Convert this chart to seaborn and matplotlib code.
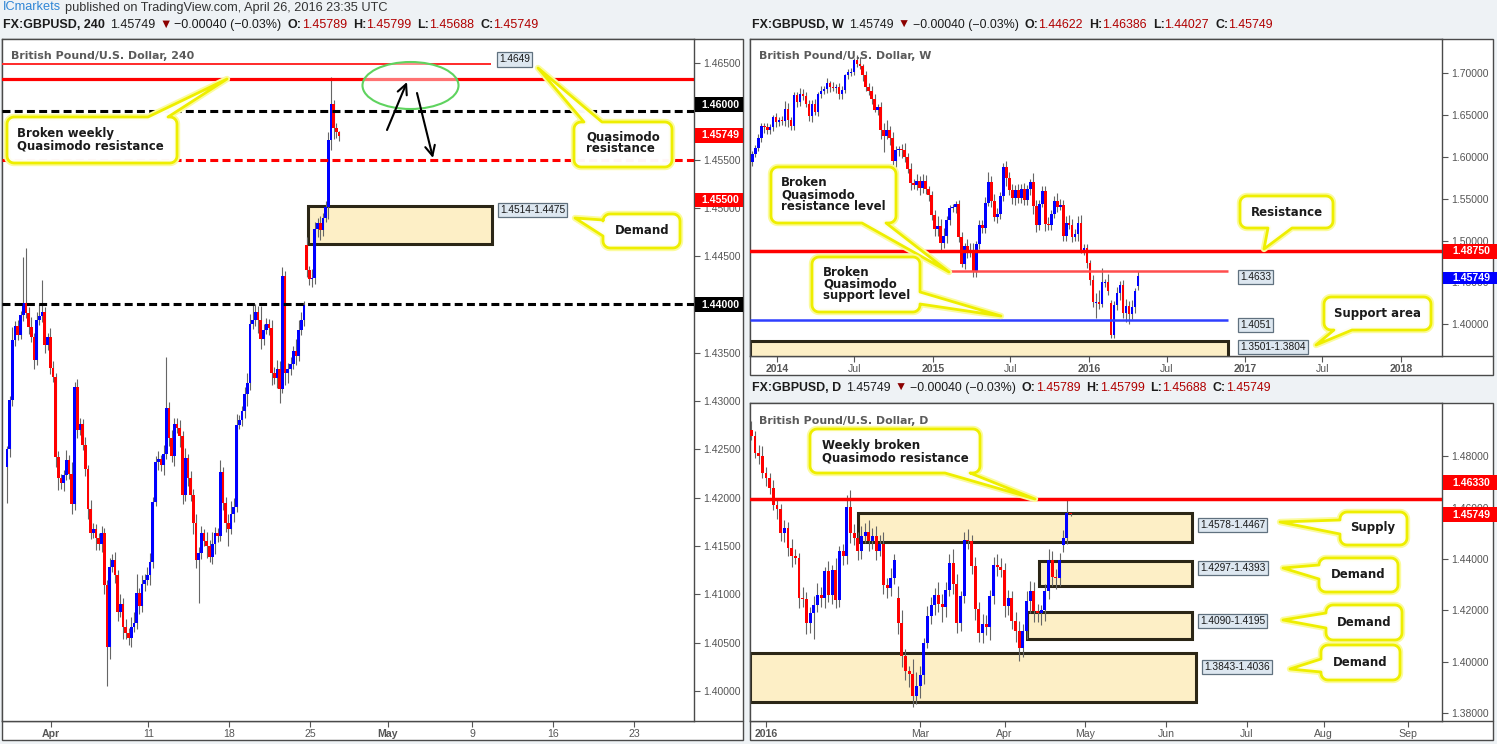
import numpy as np
import matplotlib
matplotlib.use("Agg")
import matplotlib.pyplot as plt
import matplotlib.transforms as mtransforms
import matplotlib.patheffects as pe
from matplotlib.patches import Rectangle, Ellipse, PathPatch, FancyArrowPatch
from matplotlib.lines import Line2D
from matplotlib.path import Path
import seaborn as sns

# ---------------- data: 4h chart (GBPUSD, 240) ----------------
h4_first_open = 1.4232
h4_close = [
    1.4250, 1.4301, 1.4363, 1.4378, 1.4368, 1.4389, 1.4402, 1.4391, 1.4377, 1.4366,
    1.4343, 1.4384, 1.4388, 1.4392, 1.4358, 1.4366, 1.4334, 1.4325, 1.4242, 1.4220,
    1.4215, 1.4223, 1.4239, 1.4225, 1.4193, 1.4315, 1.4270, 1.4276, 1.4255, 1.4230,
    1.4188, 1.4163, 1.4168, 1.4158, 1.4152, 1.4163, 1.4110, 1.4045, 1.4128, 1.4136,
    1.4120, 1.4082, 1.4090, 1.4066, 1.4060, 1.4055, 1.4066, 1.4070, 1.4101, 1.4088,
    1.4111, 1.4115, 1.4120, 1.4133, 1.4196, 1.4237, 1.4240, 1.4234, 1.4245, 1.4293,
    1.4262, 1.4243, 1.4276, 1.4272, 1.4264, 1.4203, 1.4241, 1.4220, 1.4203, 1.4174,
    1.4135, 1.4143, 1.4163, 1.4155, 1.4150, 1.4139, 1.4152, 1.4163, 1.4160, 1.4227,
    1.4195, 1.4174, 1.4168, 1.4183, 1.4190, 1.4275, 1.4280, 1.4290, 1.4307, 1.4319,
    1.4380, 1.4384, 1.4392, 1.4384, 1.4364, 1.4374, 1.4380, 1.4376, 1.4329, 1.4324,
    1.4333, 1.4313, 1.4430, 1.4329, 1.4333, 1.4338, 1.4352, 1.4347, 1.4374, 1.4384,
    1.4399, 1.4436, 1.4426, 1.4427, 1.4478, 1.4484, 1.4477, 1.4490, 1.4501, 1.4570,
    1.4608, 1.4583, 1.4579, 1.45749]
h4_gap_open = {111: 1.4462, 123: 1.45789}
# wick lengths in pips above / below the body
h4_up = [
    3, 4, 14, 5, 6, 4, 47, 57, 6, 10,
    5, 8, 12, 33, 5, 4, 10, 8, 4, 6,
    5, 6, 10, 5, 12, 5, 8, 6, 5, 8,
    4, 10, 6, 5, 5, 8, 6, 5, 10, 6,
    8, 5, 10, 6, 8, 5, 10, 12, 20, 6,
    9, 6, 8, 10, 5, 6, 8, 4, 10, 53,
    6, 8, 6, 7, 8, 5, 10, 4, 8, 6,
    9, 6, 8, 5, 10, 6, 12, 7, 6, 12,
    5, 6, 9, 14, 10, 12, 6, 5, 8, 10,
    10, 18, 8, 6, 14, 6, 6, 5, 8, 6,
    10, 8, 9, 5, 6, 8, 5, 12, 10, 8,
    5, 8, 4, 10, 7, 6, 8, 5, 6, 9,
    28, 4, 5, 1]
h4_dn = [
    37, 8, 6, 6, 5, 4, 6, 5, 8, 5,
    10, 6, 5, 6, 8, 5, 6, 5, 10, 12,
    6, 8, 5, 6, 10, 6, 8, 5, 6, 8,
    10, 6, 5, 12, 6, 8, 10, 40, 12, 5,
    8, 10, 6, 12, 6, 8, 10, 5, 6, 8,
    6, 8, 5, 10, 6, 5, 8, 6, 10, 5,
    8, 6, 10, 5, 12, 10, 6, 8, 6, 12,
    8, 44, 6, 5, 12, 6, 8, 10, 6, 5,
    8, 10, 18, 6, 8, 5, 4, 6, 8, 12,
    8, 5, 6, 14, 10, 6, 5, 8, 12, 6,
    10, 15, 5, 12, 10, 6, 5, 10, 5, 6,
    6, 8, 6, 8, 6, 8, 10, 6, 5, 12,
    10, 12, 7, 6]
h4_xticks = [16.3, 52.3, 82.3, 112.2, 141.1, 172.3, 202.2, 232.2]
h4_xlabels = ['Apr', '11', '18', '25', 'May', '9', '16', '23']
h4_xbold = [True, False, False, False, True, False, False, False]
h4_yticks = [1.400, 1.405, 1.410, 1.415, 1.420, 1.425, 1.430,
             1.435, 1.440, 1.445, 1.450, 1.455, 1.460, 1.465]
h4_demand = (1.4463, 1.4502)

# ---------------- data: weekly chart ----------------
wk_first_open = 1.5940
wk_close = [
    1.6030, 1.6110, 1.6225, 1.6370, 1.6360, 1.6315, 1.6355, 1.6470, 1.6420, 1.6445,
    1.6430, 1.6570, 1.6440, 1.6365, 1.6735, 1.6650, 1.6750, 1.6730, 1.6630, 1.6490,
    1.6635, 1.6540, 1.6750, 1.6790, 1.6810, 1.6880, 1.6840, 1.6820, 1.6835, 1.6750,
    1.6800, 1.6975, 1.7010, 1.7015, 1.7155, 1.7110, 1.7085, 1.6980, 1.6830, 1.6785,
    1.6690, 1.6565, 1.6595, 1.6325, 1.6250, 1.6320, 1.6225, 1.5955, 1.6085, 1.6090,
    1.6080, 1.5995, 1.5860, 1.5685, 1.5660, 1.5710, 1.5630, 1.5710, 1.5615, 1.5550,
    1.5300, 1.5140, 1.5170, 1.4975, 1.5060, 1.5240, 1.5390, 1.5400, 1.5440, 1.5040,
    1.4725, 1.4935, 1.4880, 1.4870, 1.4630, 1.4960, 1.5180, 1.5145, 1.5450, 1.5705,
    1.5475, 1.5285, 1.5315, 1.5535, 1.5880, 1.5745, 1.5600, 1.5510, 1.5600, 1.5505,
    1.5610, 1.5490, 1.5620, 1.5700, 1.5415, 1.5180, 1.5440, 1.5595, 1.5200, 1.5180,
    1.5320, 1.5470, 1.5400, 1.5425, 1.5050, 1.5210, 1.5190, 1.5040, 1.5080, 1.5215,
    1.4890, 1.4910, 1.4735, 1.4530, 1.4265, 1.4265, 1.4245, 1.4500, 1.4500, 1.4400,
    1.3870, 1.4225, 1.4370, 1.4468, 1.4135, 1.4216, 1.4119, 1.4200, 1.4398, 1.45749]
wk_gap_open = {120: 1.4250, 129: 1.44622}
wk_up = [
    40, 35, 45, 30, 30, 45, 40, 35, 50, 30,
    45, 98, 70, 40, 40, 40, 73, 55, 40, 45,
    40, 55, 30, 55, 35, 60, 30, 60, 40, 50,
    45, 20, 45, 45, 25, 60, 82, 30, 40, 55,
    60, 55, 35, 55, 80, 120, 50, 70, 50, 40,
    60, 80, 50, 70, 55, 80, 60, 85, 70, 40,
    40, 60, 120, 90, 90, 50, 40, 40, 35, 40,
    65, 35, 80, 90, 95, 40, 60, 70, 65, 110,
    65, 80, 70, 50, 50, 70, 70, 70, 60, 75,
    65, 80, 40, 40, 110, 75, 50, 60, 55, 80,
    45, 60, 100, 70, 55, 80, 95, 65, 55, 75,
    90, 45, 45, 35, 60, 110, 140, 169, 45, 100,
    40, 55, 80, 47, 60, 80, 60, 95, 40, 64]
wk_dn = [
    55, 35, 40, 50, 80, 45, 45, 50, 60, 55,
    45, 60, 80, 50, 40, 60, 45, 50, 40, 60,
    70, 40, 55, 50, 40, 45, 60, 35, 55, 55,
    60, 40, 45, 50, 40, 35, 40, 75, 40, 45,
    60, 35, 60, 110, 198, 40, 85, 75, 90, 70,
    90, 60, 55, 85, 50, 55, 90, 60, 60, 80,
    60, 90, 80, 95, 60, 90, 60, 55, 70, 60,
    40, 60, 90, 70, 65, 65, 60, 50, 60, 40,
    70, 50, 80, 60, 60, 90, 50, 70, 90, 60,
    60, 70, 70, 75, 100, 75, 60, 45, 90, 60,
    60, 50, 60, 40, 60, 60, 55, 60, 50, 80,
    40, 60, 60, 60, 60, 185, 60, 40, 60, 45,
    35, 35, 50, 80, 65, 110, 114, 60, 60, 59]
wk_xticks = [0, 25.86, 52.14, 78.0, 104.29, 130.3, 156.57, 182.4, 208.7]
wk_xlabels = ['2014', 'Jul', '2015', 'Jul', '2016', 'Jul', '2017', 'Jul', '2018']
wk_xbold = [True, False, True, False, True, False, True, False, True]
wk_yticks = [1.40, 1.45, 1.50, 1.55, 1.60, 1.65, 1.70]

# ---------------- data: daily chart ----------------
d1_first_open = 1.4902
d1_close = [
    1.4876, 1.4812, 1.4800, 1.4734, 1.4714, 1.4676, 1.4611, 1.4595, 1.4500, 1.4520,
    1.4443, 1.4410, 1.4405, 1.4250, 1.4243, 1.4152, 1.4190, 1.4223, 1.4262, 1.4249,
    1.4352, 1.4262, 1.4357, 1.4240, 1.4430, 1.4410, 1.4601, 1.4501, 1.4480, 1.4430,
    1.4489, 1.4505, 1.4470, 1.4490, 1.4430, 1.4460, 1.4300, 1.4287, 1.4326, 1.4398,
    1.4152, 1.4022, 1.3964, 1.3952, 1.3867, 1.3905, 1.3951, 1.4074, 1.4178, 1.4223,
    1.4262, 1.4225, 1.4215, 1.4280, 1.4385, 1.4301, 1.4152, 1.4256, 1.4475, 1.4468,
    1.4372, 1.4204, 1.4113, 1.4148, 1.4135, 1.4256, 1.4378, 1.4370, 1.4359, 1.4216,
    1.4250, 1.4158, 1.4119, 1.4055, 1.4119, 1.4236, 1.4275, 1.4197, 1.4190, 1.4200,
    1.4274, 1.4398, 1.4330, 1.4325, 1.4398, 1.4482, 1.4579, 1.45749]
d1_gap_open = {40: 1.4249, 85: 1.4456, 87: 1.45789}
d1_up = [
    35, 20, 30, 40, 25, 20, 30, 25, 20, 30,
    25, 35, 30, 20, 40, 30, 25, 35, 45, 30,
    15, 40, 20, 45, 20, 30, 49, 68, 35, 25,
    40, 35, 45, 30, 40, 35, 45, 25, 40, 20,
    45, 50, 30, 20, 60, 55, 35, 20, 40, 30,
    25, 50, 40, 30, 35, 55, 40, 20, 30, 40,
    25, 35, 30, 40, 35, 25, 30, 40, 35, 25,
    30, 25, 35, 40, 30, 40, 40, 35, 30, 20,
    30, 40, 35, 30, 25, 30, 59, 1]
d1_dn = [
    15, 20, 30, 20, 30, 25, 20, 40, 30, 35,
    30, 40, 25, 40, 30, 45, 40, 100, 30, 35,
    40, 30, 35, 30, 25, 35, 30, 40, 25, 35,
    30, 25, 40, 30, 35, 20, 35, 40, 30, 25,
    45, 40, 35, 50, 40, 32, 45, 35, 20, 30,
    40, 30, 60, 40, 25, 35, 40, 30, 25, 30,
    30, 40, 35, 40, 30, 50, 30, 35, 30, 40,
    35, 30, 40, 50, 35, 30, 45, 40, 35, 45,
    40, 30, 35, 40, 30, 30, 25, 6]
d1_xticks = [0, 42, 65, 87, 109, 131, 152, 175]
d1_xlabels = ['2016', 'Mar', 'Apr', 'May', 'Jun', 'Jul', 'Aug', 'Sep']
d1_xbold = [True, False, False, False, False, False, False, False]
d1_yticks = [1.38, 1.40, 1.42, 1.44, 1.46, 1.48]
d1_zones = [(1.4467, 1.4578, 25.1), (1.4297, 1.4393, 74.4),
            (1.4090, 1.4195, 71.1), (1.3843, 1.4036, -4.4)]

# ---------------- figure ----------------
sns.set_theme(style="white")
plt.rcParams['font.family'] = ['Liberation Sans', 'DejaVu Sans']

W, H = 1497, 744
fig = plt.figure(figsize=(W / 100, H / 100), dpi=100, facecolor='#eef2f5')
pix = mtransforms.Affine2D().scale(1 / W, -1 / H).translate(0, 1) + fig.transFigure
renderer = fig.canvas.get_renderer()

BLUE, RED, WICK = '#0000ff', '#ff0000', '#666666'
FRAME = '#4a4a4a'
CALLOUT_FONT = 'DejaVu Sans'


def opens_from(first, closes, gaps):
    o = [first] + list(closes[:-1])
    for i, v in gaps.items():
        o[i] = v
    return np.array(o)


def draw_candles(ax, x, o, c, up, dn, width, minh):
    x = np.asarray(x, dtype=float)
    c = np.asarray(c)
    hi = np.maximum(o, c) + np.asarray(up) * 1e-4
    lo = np.minimum(o, c) - np.asarray(dn) * 1e-4
    ax.vlines(x, lo, hi, color=WICK, lw=0.8, zorder=3)
    body = np.abs(c - o)
    h = np.maximum(body, minh)
    bottom = np.minimum(o, c) - (h - body) / 2
    bull = c >= o
    ax.bar(x[bull], h[bull], bottom=bottom[bull], width=width, color=BLUE, lw=0, zorder=4)
    ax.bar(x[~bull], h[~bull], bottom=bottom[~bull], width=width, color=RED, lw=0, zorder=4)


def make_axes(box, xlim, ylim, yticks, xticks, xlabels, xbold):
    x0, y0, x1, y1 = box
    ax = fig.add_axes([x0 / W, 1 - y1 / H, (x1 - x0) / W, (y1 - y0) / H])
    ax.set_xlim(*xlim)
    ax.set_ylim(*ylim)
    ax.set_facecolor('white')
    for sp in ax.spines.values():
        sp.set_color(FRAME)
        sp.set_linewidth(1.0)
    ax.yaxis.tick_right()
    ax.set_yticks(yticks, labels=[f'{v:.5f}' for v in yticks])
    ax.set_xticks(xticks, labels=xlabels)
    ax.tick_params(axis='y', right=True, left=False, length=4, width=0.8,
                   color='#555555', labelsize=7.5, labelcolor='#555555', pad=2.5)
    ax.tick_params(axis='x', bottom=True, length=4, width=0.8,
                   color='#555555', labelsize=7.6, labelcolor='#555555', pad=2)
    for lab, b in zip(ax.get_xticklabels(), xbold):
        if b:
            lab.set_fontweight('bold')
    ax.grid(False)
    return ax


def clip_label(ax, value, y_top, y_bottom, x0, x1):
    # the price tag hides part of this scale label; show only what lies outside [y_top, y_bottom]
    for tick_value, lab in zip(ax.get_yticks(), ax.get_yticklabels()):
        if abs(tick_value - value) < 1e-9:
            lab.set_clip_on(True)
            lab.set_clip_box(mtransforms.Bbox([[x0, H - y_bottom], [x1, H - y_top]]))


def bubble(box, side, a, b, tip, r=7):
    x0, y0, x1, y1 = box
    pts = []

    def arc(cx, cy, t0, t1):
        for t in np.linspace(t0, t1, 7):
            pts.append((cx + r * np.cos(t), cy + r * np.sin(t)))

    arc(x0 + r, y0 + r, np.pi, 1.5 * np.pi)
    if side == 'top':
        pts.extend([(a, y0), tip, (b, y0)])
    arc(x1 - r, y0 + r, 1.5 * np.pi, 2 * np.pi)
    if side == 'right':
        pts.extend([(x1, a), tip, (x1, b)])
    arc(x1 - r, y1 - r, 0, 0.5 * np.pi)
    if side == 'bottom':
        pts.extend([(b, y1), tip, (a, y1)])
    arc(x0 + r, y1 - r, 0.5 * np.pi, np.pi)
    if side == 'left':
        pts.extend([(x0, b), tip, (x0, a)])
    pts.append(pts[0])
    codes = [Path.MOVETO] + [Path.LINETO] * (len(pts) - 2) + [Path.CLOSEPOLY]
    p = PathPatch(Path(pts, codes), transform=pix, fc=(1, 1, 1, 0.82),
                  ec='#eeee00', lw=2.0, zorder=6, joinstyle='round')
    p.set_path_effects([pe.Stroke(linewidth=4.6, foreground='#fbfb9e'), pe.Normal()])
    fig.add_artist(p)


def ctext(x, y, s, ha='left'):
    fig.text(x, y, s, transform=pix, ha=ha, va='center', fontsize=8.5,
             fontweight='bold', color='#1b1b1b', family=CALLOUT_FONT, zorder=7)


def price_box(x, y, s):
    fig.text(x, y, s, transform=pix, ha='left', va='center', fontsize=7.3, color='#1a1a1a',
             bbox=dict(boxstyle='square,pad=0.22', fc='#dde7f0', ec='#60717f', lw=0.9), zorder=7)


def axis_tag(x0, x1, y0, y1, s, fc):
    fig.add_artist(Rectangle((x0, y0), x1 - x0, y1 - y0, transform=pix, fc=fc, ec='none', zorder=5))
    fig.text((x0 + x1) / 2 + 1, (y0 + y1) / 2, s, transform=pix, ha='center', va='center',
             fontsize=7.6, fontweight='bold', color='white', zorder=7)


def rich(x, y, pieces, width, size=9.0):
    def lay(sz):
        arts, cx = [], x
        for s, wt, col, gap in pieces:
            t = fig.text(cx, y, s, transform=pix, ha='left', va='center', fontsize=sz,
                         fontweight=wt, color=col, zorder=7)
            cx += t.get_window_extent(renderer).width + gap
            arts.append(t)
        return arts, cx - x
    arts, w = lay(size)
    for a in arts:
        a.remove()
    lay(size * width / w)


def title(x, y, s):
    fig.text(x, y, s, transform=pix, ha='left', va='center', fontsize=7.9, fontweight='bold',
             color='#5a5a5a', family=CALLOUT_FONT, zorder=7)


# outer panel frames
for (x0, y0, x1, y1, yb) in [(2, 39, 743, 740, 721), (750, 39, 1493, 375, 356), (750, 403, 1493, 740, 721)]:
    fig.add_artist(Rectangle((x0, y0), x1 - x0, y1 - y0, transform=pix, fc='white', ec=FRAME, lw=1.0, zorder=-1))
    fig.add_artist(Line2D([x0, x1], [yb, yb], transform=pix, color=FRAME, lw=1.0, zorder=-0.5))

# ---------------- 4h panel ----------------
ax1 = make_axes((2, 39, 694, 721), (-1.852, 254.44), (1.396884, 1.467484),
                h4_yticks, h4_xticks, h4_xlabels, h4_xbold)
x4 = np.arange(len(h4_close))
draw_candles(ax1, x4, opens_from(h4_first_open, h4_close, h4_gap_open), h4_close,
             h4_up, h4_dn, 1.0, 0.00012)
ax1.add_patch(Rectangle((111.5, h4_demand[0]), 179.6 - 111.5, h4_demand[1] - h4_demand[0],
                        fc='#fdefc6', ec='#2b2616', lw=2.2, zorder=1.5))
ax1.hlines(1.4649, -1.852, 179.3, color='#ff2a2a', lw=1.4, zorder=5)
ax1.axhline(1.4633, color=RED, lw=2.3, zorder=5)
ax1.axhline(1.4600, color='black', lw=2.2, ls=(0, (2.6, 1.4)), zorder=5)
ax1.axhline(1.4550, color=RED, lw=2.2, ls=(0, (2.6, 1.4)), zorder=5)
ax1.axhline(1.4400, color='black', lw=2.2, ls=(0, (2.6, 1.4)), zorder=5)

fig.add_artist(Ellipse((410.5, 85.5), 96, 47, transform=pix, fc=(1, 1, 1, 0.45),
                       ec='#5fd35f', lw=1.5, zorder=6))
for (a, b) in [((387, 130), (407, 82)), ((417, 93), (433, 158))]:
    fig.add_artist(FancyArrowPatch(a, b, transform=pix, arrowstyle='->,head_length=0.45,head_width=0.22',
                                   mutation_scale=16, color='black', lw=1.5, shrinkA=0, shrinkB=0, zorder=7))

title(11, 56, 'British Pound/U.S. Dollar, 240')
price_box(499, 59.5, '1.4649')
price_box(500, 210, '1.4514-1.4475')
bubble((7, 117, 177, 163), 'top', 148, 168, (227, 79))
ctext(17, 133, 'Broken weekly')
ctext(17, 146, 'Quasimodo resistance')
bubble((574, 122, 672, 167), 'top', 584, 602, (538, 68))
ctext(586, 137, 'Quasimodo')
ctext(586, 149, 'resistance')
bubble((603, 214, 680, 248), 'left', 220, 236, (575, 218))
ctext(642, 231, 'Demand', ha='center')
axis_tag(695, 743, 97, 112, '1.46000', 'black')
axis_tag(695, 743, 128, 143, '1.45749', RED)
axis_tag(695, 743, 193, 207, '1.45500', RED)
axis_tag(695, 743, 297, 312, '1.44000', 'black')
clip_label(ax1, 1.460, 0, 112, 694, 745)
clip_label(ax1, 1.450, 207, 744, 694, 745)

# ---------------- weekly panel ----------------
ax2 = make_axes((750, 39, 1442, 356), (-9.03, 222.41), (1.362052, 1.740787),
                wk_yticks, wk_xticks, wk_xlabels, wk_xbold)
xw = np.arange(len(wk_close)) - 8 - 0.29
draw_candles(ax2, xw, opens_from(wk_first_open, wk_close, wk_gap_open), wk_close,
             wk_up, wk_dn, 0.9, 0.0012)
ax2.axhline(1.4875, color=RED, lw=2.5, zorder=5)
ax2.hlines(1.4633, 57.9, 150.8, color='#ff4d4d', lw=1.8, zorder=5)
ax2.hlines(1.4051, -9.03, 150.8, color='#2f3fff', lw=1.8, zorder=5)
ax2.add_patch(Rectangle((-9.03, 1.3501), 150.8 + 9.03, 1.3804 - 1.3501,
                        fc='#fdefc6', ec='#2b2616', lw=2.2, zorder=1.5))
title(759, 56, 'British Pound/U.S. Dollar, W')
price_box(1240, 277, '1.4633')
price_box(1240, 325, '1.4051')
price_box(1240, 347, '1.3501-1.3804')
bubble((771, 167, 896, 223), 'bottom', 862, 886, (949, 272))
ctext(781, 183, 'Broken')
ctext(781, 195, 'Quasimodo')
ctext(781, 207, 'resistance level')
bubble((812, 257, 920, 312), 'right', 292, 304, (1001, 316))
ctext(823, 272, 'Broken')
ctext(823, 284, 'Quasimodo')
ctext(823, 296, 'support level')
bubble((1240, 196, 1333, 228), 'bottom', 1268, 1292, (1264, 249))
ctext(1287, 212, 'Resistance', ha='center')
bubble((1324, 297, 1431, 330), 'bottom', 1334, 1352, (1316, 345))
ctext(1378, 313, 'Support area', ha='center')
axis_tag(1443, 1497, 244, 259, '1.48750', RED)
axis_tag(1443, 1497, 272, 284, '1.45749', BLUE)
clip_label(ax2, 1.45, 284, 744, 1442, 1497)
clip_label(ax2, 1.50, 0, 244, 1442, 1497)

# ---------------- daily panel ----------------
ax3 = make_axes((750, 403, 1442, 721), (-4.36, 184.2), (1.377087, 1.500583),
                d1_yticks, d1_xticks, d1_xlabels, d1_xbold)
xd = np.arange(len(d1_close)) - 4
for lo, hi, left in d1_zones:
    right = 117.2 if lo < 1.39 else 116.1
    left = max(left, -4.36)
    ax3.add_patch(Rectangle((left, lo), right - left, hi - lo,
                            fc='#fdefc6', ec='#2b2616', lw=2.2, zorder=1.5))
draw_candles(ax3, xd, opens_from(d1_first_open, d1_close, d1_gap_open), d1_close,
             d1_up, d1_dn, 0.8, 0.0004)
ax3.axhline(1.4633, color=RED, lw=2.5, zorder=5)
title(759, 421, 'British Pound/U.S. Dollar, D')
price_box(1200, 525, '1.4578-1.4467')
price_box(1200, 568, '1.4297-1.4393')
price_box(1200, 621, '1.4090-1.4195')
price_box(1204, 667, '1.3843-1.4036')
bubble((810, 429, 980, 473), 'bottom', 945, 970, (1035, 499))
ctext(822, 445, 'Weekly broken')
ctext(822, 458, 'Quasimodo resistance')
bubble((1340, 512, 1407, 545), 'left', 520, 534, (1280, 522))
ctext(1373, 528, 'Supply', ha='center')
bubble((1319, 558, 1398, 592), 'left', 565, 579, (1283, 568))
ctext(1358, 575, 'Demand', ha='center')
bubble((1326, 605, 1402, 640), 'left', 613, 628, (1283, 620))
ctext(1364, 622, 'Demand', ha='center')
bubble((1321, 645, 1400, 680), 'left', 659, 672, (1290, 669))
ctext(1360, 662, 'Demand', ha='center')
axis_tag(1443, 1497, 475, 490, '1.46330', RED)
axis_tag(1443, 1497, 507, 522, '1.45749', RED)
clip_label(ax3, 1.46, 490, 507, 1442, 1497)

# ---------------- headers ----------------
DARK, DRED, VRED = '#1c1c1c', '#8b0000', '#b00000'
rich(3, 7.5, [('ICmarkets', 'normal', '#2f86d6', 4),
              ('published on TradingView.com, April 26, 2016 23:35 UTC', 'normal', '#333333', 0)], 387)


def quote_line(x, y, name, o, h, l, c, width):
    rich(x, y, [(name, 'bold', DARK, 5), ('1.45749', 'normal', DARK, 4), ('\u25bc', 'normal', DRED, 3),
                ('\u22120.00040 (\u22120.03%)', 'normal', DARK, 6),
                ('O:', 'bold', DARK, 0), (o, 'normal', VRED, 6),
                ('H:', 'bold', DARK, 0), (h, 'normal', VRED, 6),
                ('L:', 'bold', DARK, 0), (l, 'normal', VRED, 6),
                ('C:', 'bold', DARK, 0), (c, 'normal', VRED, 0)], width)


quote_line(3, 25, 'FX:GBPUSD, 240', '1.45789', '1.45799', '1.45688', '1.45749', 536)
quote_line(752, 25, 'FX:GBPUSD, W', '1.44622', '1.46386', '1.44027', '1.45749', 522)
quote_line(752, 388, 'FX:GBPUSD, D', '1.45789', '1.45799', '1.45688', '1.45749', 521)

fig.savefig('out.png', dpi=100, facecolor=fig.get_facecolor())
